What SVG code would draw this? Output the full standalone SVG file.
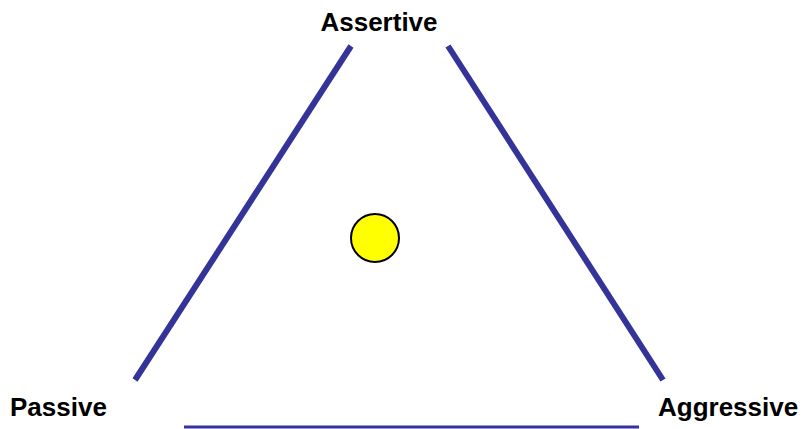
<svg xmlns="http://www.w3.org/2000/svg" width="803" height="429" viewBox="0 0 803 429">
<style>
.edge{stroke:#333399;stroke-linecap:butt;fill:none}
.lbl{font-family:"Liberation Sans",Arial,sans-serif;font-weight:bold;font-size:26px;fill:#000}
</style>
<rect width="803" height="429" fill="#fff"/>
<g id="connectors">
<line class="edge" x1="351" y1="46" x2="135" y2="380" stroke-width="6"/>
<line class="edge" x1="448" y1="46" x2="663" y2="380" stroke-width="6"/>
<line class="edge" x1="184" y1="427" x2="639" y2="427" stroke-width="3"/>
</g>
<g id="assertive"><text class="lbl" x="379" y="31" text-anchor="middle">Assertive</text></g>
<g id="passive"><text class="lbl" x="10" y="416">Passive</text></g>
<g id="aggressive"><text class="lbl" x="658" y="416">Aggressive</text></g>
<g id="marker"><circle cx="375" cy="238" r="24" fill="#ffff00" stroke="#000" stroke-width="2"/></g>
</svg>
